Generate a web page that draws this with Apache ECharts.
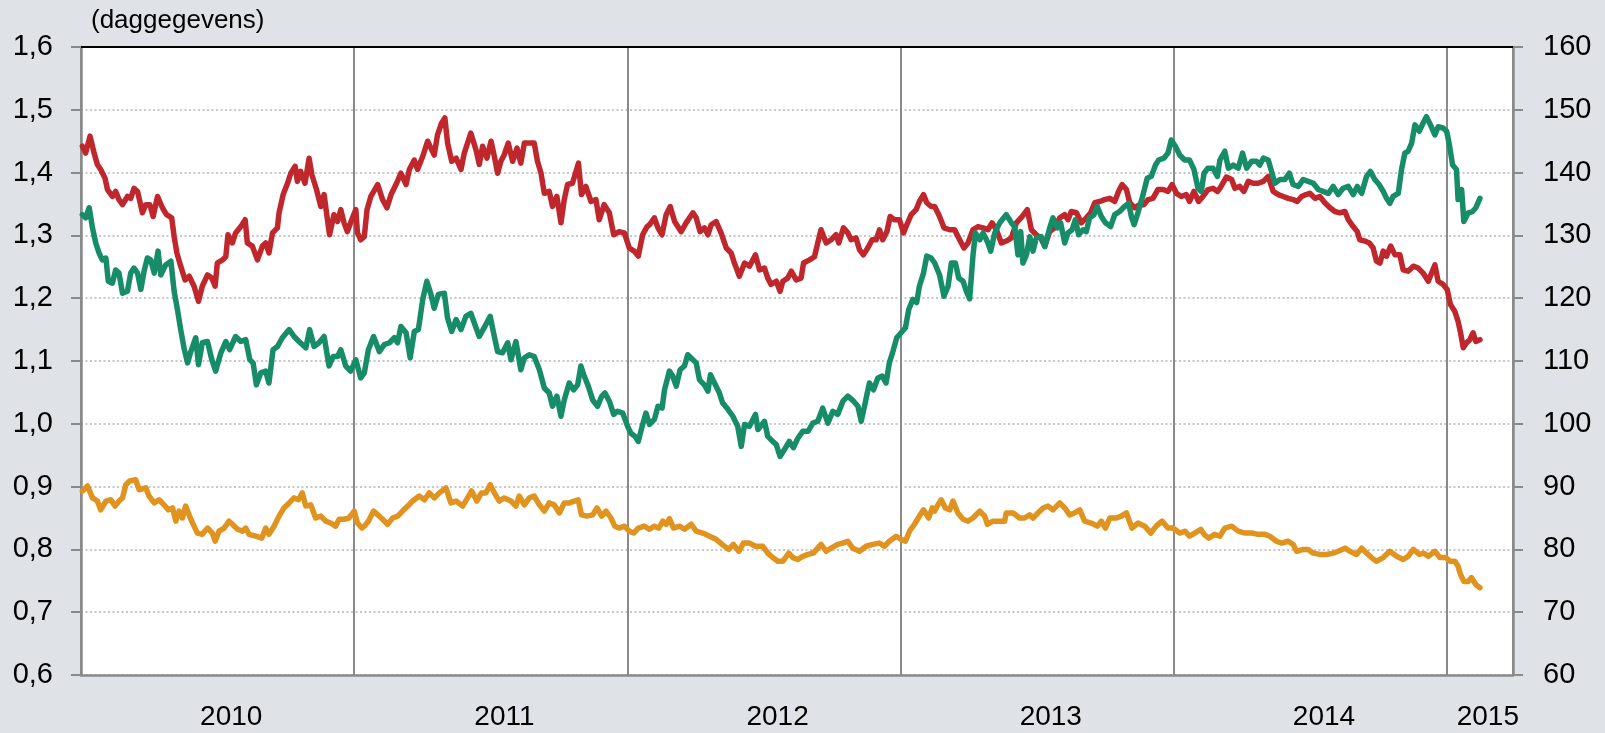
<!DOCTYPE html>
<html>
<head>
<meta charset="utf-8">
<script src="https://cdn.jsdelivr.net/npm/echarts@6/dist/echarts.min.js"></script>
<style>
  html, body { margin: 0; padding: 0; background: #dfe2e7; }
  #main { width: 1605px; height: 733px; }
</style>
</head>
<body>
<div id="main"></div>
<script>
// x = decimal year
var eurUsd = [
  [2010.005,1.442],[2010.017,1.431],[2010.033,1.458],[2010.048,1.431],[2010.060,1.413],[2010.072,1.405],
  [2010.088,1.391],[2010.097,1.373],[2010.115,1.362],[2010.127,1.370],[2010.139,1.357],[2010.152,1.349],
  [2010.170,1.362],[2010.182,1.359],[2010.194,1.375],[2010.207,1.370],[2010.225,1.336],[2010.237,1.349],
  [2010.252,1.349],[2010.264,1.330],[2010.280,1.362],[2010.298,1.344],[2010.313,1.333],[2010.332,1.328],
  [2010.341,1.298],[2010.351,1.272],[2010.365,1.251],[2010.381,1.229],[2010.396,1.235],[2010.414,1.219],
  [2010.430,1.195],[2010.444,1.219],[2010.463,1.237],[2010.479,1.232],[2010.491,1.219],[2010.499,1.256],
  [2010.518,1.261],[2010.530,1.266],[2010.538,1.301],[2010.554,1.288],[2010.566,1.304],[2010.585,1.314],
  [2010.601,1.325],[2010.609,1.288],[2010.627,1.283],[2010.646,1.261],[2010.664,1.283],[2010.676,1.288],
  [2010.688,1.272],[2010.701,1.304],[2010.719,1.312],[2010.725,1.336],[2010.740,1.365],[2010.756,1.383],
  [2010.768,1.399],[2010.784,1.410],[2010.792,1.386],[2010.804,1.402],[2010.820,1.383],[2010.835,1.423],
  [2010.845,1.397],[2010.862,1.373],[2010.878,1.346],[2010.890,1.365],[2010.902,1.325],[2010.910,1.301],
  [2010.926,1.333],[2010.939,1.322],[2010.951,1.341],[2010.963,1.320],[2010.975,1.306],[2010.991,1.325],
  [2011.006,1.341],[2011.012,1.304],[2011.024,1.293],[2011.037,1.298],[2011.047,1.341],[2011.061,1.362],
  [2011.086,1.381],[2011.104,1.357],[2011.120,1.344],[2011.135,1.365],[2011.153,1.381],[2011.171,1.399],
  [2011.190,1.381],[2011.202,1.405],[2011.220,1.420],[2011.232,1.405],[2011.251,1.426],[2011.269,1.450],
  [2011.281,1.439],[2011.293,1.428],[2011.305,1.460],[2011.320,1.479],[2011.332,1.487],[2011.342,1.447],
  [2011.357,1.418],[2011.373,1.423],[2011.391,1.405],[2011.403,1.431],[2011.427,1.463],[2011.446,1.436],
  [2011.458,1.413],[2011.470,1.442],[2011.486,1.423],[2011.501,1.450],[2011.513,1.426],[2011.525,1.399],
  [2011.537,1.418],[2011.549,1.428],[2011.564,1.447],[2011.580,1.418],[2011.596,1.439],[2011.610,1.415],
  [2011.623,1.447],[2011.641,1.447],[2011.659,1.447],[2011.671,1.418],[2011.684,1.399],[2011.696,1.367],
  [2011.714,1.370],[2011.726,1.346],[2011.742,1.362],[2011.757,1.320],[2011.769,1.357],[2011.781,1.381],
  [2011.799,1.383],[2011.821,1.415],[2011.832,1.365],[2011.848,1.378],[2011.867,1.354],[2011.885,1.357],
  [2011.897,1.325],[2011.915,1.349],[2011.934,1.336],[2011.950,1.301],[2011.970,1.306],[2011.989,1.304],
  [2012.007,1.280],[2012.025,1.275],[2012.040,1.267],[2012.056,1.301],[2012.072,1.314],[2012.081,1.317],
  [2012.099,1.328],[2012.112,1.312],[2012.127,1.301],[2012.142,1.333],[2012.157,1.346],[2012.173,1.322],
  [2012.197,1.306],[2012.215,1.320],[2012.240,1.336],[2012.252,1.328],[2012.266,1.306],[2012.282,1.312],
  [2012.295,1.301],[2012.307,1.317],[2012.325,1.322],[2012.343,1.304],[2012.362,1.280],[2012.380,1.272],
  [2012.392,1.256],[2012.410,1.235],[2012.429,1.256],[2012.447,1.251],[2012.469,1.269],[2012.484,1.245],
  [2012.502,1.248],[2012.514,1.232],[2012.526,1.222],[2012.545,1.227],[2012.559,1.211],[2012.569,1.227],
  [2012.587,1.232],[2012.600,1.243],[2012.618,1.229],[2012.636,1.232],[2012.645,1.256],[2012.667,1.261],
  [2012.685,1.266],[2012.697,1.288],[2012.709,1.309],[2012.728,1.288],[2012.746,1.293],[2012.764,1.301],
  [2012.774,1.288],[2012.791,1.312],[2012.807,1.304],[2012.819,1.293],[2012.837,1.296],[2012.850,1.277],
  [2012.864,1.269],[2012.880,1.280],[2012.896,1.293],[2012.911,1.293],[2012.923,1.309],[2012.935,1.293],
  [2012.950,1.306],[2012.962,1.330],[2012.978,1.325],[2012.996,1.325],[2013.011,1.304],[2013.023,1.317],
  [2013.039,1.333],[2013.057,1.341],[2013.069,1.354],[2013.084,1.365],[2013.096,1.352],[2013.112,1.346],
  [2013.125,1.346],[2013.143,1.330],[2013.159,1.312],[2013.180,1.309],[2013.198,1.309],[2013.213,1.296],
  [2013.232,1.280],[2013.247,1.288],[2013.265,1.309],[2013.284,1.314],[2013.302,1.312],[2013.320,1.309],
  [2013.335,1.320],[2013.351,1.309],[2013.369,1.288],[2013.387,1.291],[2013.406,1.296],[2013.424,1.320],
  [2013.445,1.330],[2013.464,1.341],[2013.479,1.309],[2013.497,1.301],[2013.513,1.296],[2013.528,1.283],
  [2013.546,1.306],[2013.564,1.312],[2013.583,1.328],[2013.601,1.333],[2013.613,1.325],[2013.625,1.338],
  [2013.644,1.336],[2013.662,1.320],[2013.680,1.328],[2013.696,1.336],[2013.711,1.352],[2013.729,1.354],
  [2013.747,1.357],[2013.766,1.359],[2013.784,1.354],[2013.798,1.370],[2013.811,1.381],[2013.827,1.373],
  [2013.839,1.352],[2013.857,1.344],[2013.875,1.349],[2013.891,1.349],[2013.906,1.357],[2013.924,1.359],
  [2013.942,1.373],[2013.961,1.373],[2013.979,1.370],[2013.994,1.381],[2014.010,1.367],[2014.028,1.362],
  [2014.046,1.365],[2014.058,1.354],[2014.074,1.370],[2014.091,1.354],[2014.107,1.362],[2014.125,1.373],
  [2014.144,1.375],[2014.160,1.370],[2014.169,1.375],[2014.193,1.393],[2014.212,1.389],[2014.224,1.375],
  [2014.242,1.378],[2014.257,1.370],[2014.273,1.386],[2014.291,1.383],[2014.309,1.383],[2014.328,1.386],
  [2014.346,1.394],[2014.364,1.370],[2014.383,1.365],[2014.401,1.362],[2014.419,1.359],[2014.437,1.357],
  [2014.452,1.354],[2014.468,1.362],[2014.484,1.365],[2014.498,1.367],[2014.517,1.359],[2014.535,1.362],
  [2014.553,1.352],[2014.572,1.344],[2014.590,1.338],[2014.608,1.336],[2014.627,1.338],[2014.639,1.325],
  [2014.657,1.314],[2014.672,1.306],[2014.681,1.293],[2014.700,1.291],[2014.716,1.288],[2014.730,1.280],
  [2014.742,1.259],[2014.755,1.256],[2014.767,1.275],[2014.779,1.267],[2014.794,1.283],[2014.810,1.269],
  [2014.828,1.269],[2014.840,1.245],[2014.858,1.243],[2014.877,1.251],[2014.895,1.248],[2014.913,1.240],
  [2014.932,1.227],[2014.944,1.240],[2014.956,1.253],[2014.968,1.227],[2014.986,1.222],[2015.001,1.214],
  [2015.013,1.190],[2015.029,1.179],[2015.041,1.163],[2015.050,1.145],[2015.060,1.121],[2015.072,1.129],
  [2015.084,1.134],[2015.096,1.145],[2015.106,1.131],[2015.121,1.134]
];

var eurJpy = [
  [2010.005,133.3],[2010.017,132.8],[2010.030,134.4],[2010.042,131.2],[2010.054,128.8],[2010.066,127.2],
  [2010.078,126.1],[2010.091,126.4],[2010.100,122.7],[2010.115,122.4],[2010.127,124.5],[2010.139,124.0],
  [2010.152,120.8],[2010.170,121.1],[2010.182,124.0],[2010.194,124.8],[2010.207,124.0],[2010.219,121.4],
  [2010.231,124.3],[2010.243,126.4],[2010.255,126.1],[2010.268,124.0],[2010.282,127.5],[2010.292,123.7],
  [2010.310,125.3],[2010.329,125.9],[2010.341,121.1],[2010.353,118.2],[2010.365,115.0],[2010.377,112.1],
  [2010.390,109.7],[2010.402,111.5],[2010.420,113.7],[2010.430,109.4],[2010.444,112.9],[2010.463,113.1],
  [2010.479,110.2],[2010.493,108.4],[2010.512,111.3],[2010.530,113.1],[2010.544,111.8],[2010.566,113.9],
  [2010.585,113.1],[2010.603,113.4],[2010.618,110.2],[2010.630,109.7],[2010.642,106.2],[2010.658,108.1],
  [2010.676,108.4],[2010.688,106.5],[2010.703,111.8],[2010.719,112.3],[2010.737,113.7],[2010.762,115.0],
  [2010.780,113.9],[2010.798,113.1],[2010.823,112.1],[2010.837,115.0],[2010.853,112.3],[2010.871,112.9],
  [2010.890,113.9],[2010.908,109.2],[2010.923,110.7],[2010.939,110.7],[2010.951,111.8],[2010.969,109.2],
  [2010.987,108.4],[2011.006,110.2],[2011.024,107.3],[2011.037,108.1],[2011.052,111.8],[2011.071,113.9],
  [2011.092,111.5],[2011.110,112.6],[2011.129,112.9],[2011.147,113.7],[2011.159,112.9],[2011.171,115.5],
  [2011.190,114.5],[2011.205,110.5],[2011.220,114.7],[2011.235,115.0],[2011.251,119.8],[2011.266,122.7],
  [2011.281,120.6],[2011.293,118.4],[2011.308,120.6],[2011.330,120.8],[2011.342,116.8],[2011.357,114.7],
  [2011.373,116.6],[2011.391,115.0],[2011.409,117.1],[2011.427,117.6],[2011.446,115.3],[2011.458,113.9],
  [2011.476,115.3],[2011.498,117.1],[2011.513,113.9],[2011.525,111.5],[2011.543,111.3],[2011.562,112.9],
  [2011.574,110.2],[2011.592,113.1],[2011.610,108.6],[2011.623,110.5],[2011.641,111.0],[2011.659,110.7],
  [2011.678,108.6],[2011.696,105.7],[2011.714,104.9],[2011.726,102.8],[2011.742,104.4],[2011.757,101.2],
  [2011.769,103.8],[2011.787,106.5],[2011.803,105.4],[2011.818,106.2],[2011.830,109.2],[2011.842,107.6],
  [2011.857,106.0],[2011.873,103.8],[2011.891,102.8],[2011.906,104.4],[2011.918,104.9],[2011.934,103.6],
  [2011.950,101.5],[2011.964,102.0],[2011.983,101.7],[2012.001,99.6],[2012.013,98.5],[2012.028,98.0],
  [2012.040,97.2],[2012.056,99.9],[2012.068,101.7],[2012.081,99.9],[2012.099,100.7],[2012.112,102.8],
  [2012.127,102.5],[2012.136,105.4],[2012.154,108.4],[2012.166,107.6],[2012.179,106.0],[2012.193,108.6],
  [2012.209,109.2],[2012.221,111.0],[2012.240,110.2],[2012.252,109.7],[2012.264,107.0],[2012.282,106.2],
  [2012.295,105.2],[2012.304,107.8],[2012.319,106.5],[2012.337,104.9],[2012.349,103.3],[2012.368,102.3],
  [2012.386,101.2],[2012.404,99.6],[2012.417,96.4],[2012.429,99.9],[2012.447,99.6],[2012.469,101.5],
  [2012.478,99.1],[2012.502,100.4],[2012.514,98.0],[2012.532,97.2],[2012.545,96.7],[2012.559,94.8],
  [2012.575,95.9],[2012.593,97.2],[2012.608,96.2],[2012.624,97.7],[2012.642,98.8],[2012.661,98.8],
  [2012.679,100.1],[2012.697,100.4],[2012.715,102.5],[2012.734,100.1],[2012.752,102.0],[2012.770,101.5],
  [2012.789,103.6],[2012.807,104.4],[2012.828,103.6],[2012.844,102.8],[2012.856,100.4],[2012.872,103.6],
  [2012.886,106.5],[2012.901,105.4],[2012.917,107.3],[2012.933,107.6],[2012.947,106.5],[2012.959,109.7],
  [2012.972,111.5],[2012.986,113.7],[2013.002,114.5],[2013.018,115.3],[2013.030,118.2],[2013.045,119.8],
  [2013.059,119.3],[2013.069,121.9],[2013.084,124.0],[2013.096,126.7],[2013.112,126.4],[2013.125,125.6],
  [2013.143,123.7],[2013.159,120.3],[2013.174,121.9],[2013.186,125.6],[2013.201,125.6],[2013.213,123.2],
  [2013.229,122.7],[2013.241,121.1],[2013.253,119.9],[2013.265,126.7],[2013.274,130.4],[2013.290,129.3],
  [2013.302,130.4],[2013.318,129.0],[2013.330,127.5],[2013.345,130.4],[2013.363,132.0],[2013.387,133.3],
  [2013.406,132.0],[2013.418,131.4],[2013.430,126.9],[2013.440,130.6],[2013.448,125.6],[2013.461,126.9],
  [2013.473,129.8],[2013.485,127.5],[2013.497,129.6],[2013.515,129.8],[2013.528,128.2],[2013.546,131.2],
  [2013.558,132.8],[2013.574,131.2],[2013.586,132.0],[2013.601,128.8],[2013.613,130.4],[2013.628,130.9],
  [2013.640,132.5],[2013.652,130.1],[2013.668,130.9],[2013.680,130.6],[2013.692,132.8],[2013.708,133.3],
  [2013.720,134.6],[2013.735,133.0],[2013.750,132.0],[2013.769,131.4],[2013.784,133.3],[2013.802,133.8],
  [2013.820,134.6],[2013.835,135.1],[2013.845,133.0],[2013.855,131.7],[2013.869,133.6],[2013.888,136.5],
  [2013.903,139.1],[2013.918,139.4],[2013.933,141.2],[2013.945,142.0],[2013.964,142.3],[2013.979,143.1],
  [2013.991,145.2],[2014.006,144.2],[2014.022,142.8],[2014.040,142.0],[2014.058,142.0],[2014.074,140.5],
  [2014.089,137.5],[2014.101,137.0],[2014.111,139.9],[2014.125,140.7],[2014.144,140.7],[2014.160,139.4],
  [2014.169,142.0],[2014.187,143.4],[2014.200,140.7],[2014.218,141.2],[2014.236,140.7],[2014.252,143.1],
  [2014.267,140.7],[2014.285,141.8],[2014.303,141.8],[2014.315,141.2],[2014.328,142.3],[2014.346,142.0],
  [2014.358,140.2],[2014.370,138.3],[2014.389,138.9],[2014.407,138.9],[2014.423,139.9],[2014.437,138.1],
  [2014.456,137.8],[2014.474,138.9],[2014.492,138.6],[2014.511,138.3],[2014.529,137.3],[2014.547,137.0],
  [2014.566,136.7],[2014.584,137.8],[2014.602,136.5],[2014.620,137.5],[2014.639,137.8],[2014.657,136.5],
  [2014.672,137.8],[2014.688,136.7],[2014.706,139.4],[2014.720,140.2],[2014.736,138.9],[2014.752,138.1],
  [2014.767,137.0],[2014.779,135.9],[2014.791,135.1],[2014.803,136.2],[2014.822,136.7],[2014.834,140.5],
  [2014.846,143.1],[2014.858,143.4],[2014.871,144.7],[2014.883,147.6],[2014.899,146.6],[2014.913,147.9],
  [2014.925,148.9],[2014.940,147.6],[2014.956,146.0],[2014.968,147.3],[2014.986,147.1],[2014.999,146.6],
  [2015.008,144.7],[2015.021,141.2],[2015.035,140.5],[2015.041,135.7],[2015.054,137.3],[2015.062,132.2],
  [2015.078,133.6],[2015.094,133.8],[2015.106,134.4],[2015.121,135.9]
];

var eurGbp = [
  [2010.005,0.893],[2010.024,0.901],[2010.042,0.882],[2010.060,0.877],[2010.072,0.863],[2010.091,0.877],
  [2010.109,0.879],[2010.125,0.869],[2010.139,0.877],[2010.152,0.882],[2010.164,0.903],[2010.178,0.909],
  [2010.200,0.911],[2010.213,0.895],[2010.237,0.898],[2010.249,0.885],[2010.268,0.874],[2010.286,0.879],
  [2010.304,0.871],[2010.320,0.863],[2010.335,0.866],[2010.347,0.845],[2010.359,0.861],[2010.371,0.850],
  [2010.383,0.869],[2010.402,0.848],[2010.414,0.837],[2010.426,0.826],[2010.444,0.824],[2010.463,0.834],
  [2010.481,0.826],[2010.491,0.813],[2010.505,0.829],[2010.524,0.834],[2010.542,0.845],[2010.554,0.840],
  [2010.573,0.832],[2010.591,0.829],[2010.603,0.834],[2010.615,0.824],[2010.640,0.821],[2010.662,0.818],
  [2010.676,0.834],[2010.688,0.824],[2010.707,0.837],[2010.725,0.853],[2010.743,0.866],[2010.762,0.874],
  [2010.780,0.882],[2010.796,0.879],[2010.810,0.890],[2010.823,0.869],[2010.841,0.871],[2010.859,0.850],
  [2010.878,0.853],[2010.896,0.845],[2010.914,0.842],[2010.932,0.837],[2010.945,0.848],[2010.963,0.848],
  [2010.981,0.850],[2011.000,0.861],[2011.012,0.842],[2011.028,0.834],[2011.037,0.837],[2011.052,0.845],
  [2011.071,0.861],[2011.092,0.853],[2011.104,0.848],[2011.122,0.840],[2011.141,0.850],[2011.159,0.853],
  [2011.177,0.861],[2011.196,0.869],[2011.214,0.877],[2011.238,0.885],[2011.257,0.879],[2011.275,0.890],
  [2011.293,0.882],[2011.312,0.890],[2011.336,0.898],[2011.354,0.874],[2011.373,0.877],[2011.397,0.869],
  [2011.415,0.882],[2011.430,0.893],[2011.449,0.877],[2011.466,0.890],[2011.482,0.890],[2011.498,0.903],
  [2011.513,0.890],[2011.531,0.877],[2011.549,0.882],[2011.574,0.877],[2011.592,0.869],[2011.604,0.885],
  [2011.623,0.871],[2011.641,0.882],[2011.659,0.885],[2011.678,0.871],[2011.696,0.861],[2011.714,0.874],
  [2011.732,0.871],[2011.751,0.858],[2011.769,0.874],[2011.787,0.874],[2011.806,0.877],[2011.820,0.879],
  [2011.832,0.855],[2011.852,0.853],[2011.873,0.855],[2011.889,0.866],[2011.906,0.853],[2011.922,0.861],
  [2011.940,0.850],[2011.954,0.837],[2011.970,0.834],[2011.989,0.837],[2012.007,0.829],[2012.023,0.826],
  [2012.040,0.834],[2012.062,0.837],[2012.081,0.832],[2012.099,0.837],[2012.115,0.834],[2012.130,0.845],
  [2012.142,0.840],[2012.154,0.849],[2012.169,0.834],[2012.191,0.837],[2012.209,0.832],[2012.234,0.840],
  [2012.252,0.829],[2012.276,0.826],[2012.301,0.821],[2012.325,0.816],[2012.347,0.808],[2012.371,0.800],
  [2012.388,0.808],[2012.408,0.797],[2012.425,0.810],[2012.447,0.810],[2012.469,0.805],[2012.496,0.805],
  [2012.514,0.794],[2012.532,0.787],[2012.551,0.781],[2012.569,0.781],[2012.591,0.794],[2012.606,0.787],
  [2012.624,0.784],[2012.642,0.789],[2012.661,0.792],[2012.681,0.794],[2012.709,0.808],[2012.728,0.797],
  [2012.746,0.802],[2012.770,0.808],[2012.789,0.810],[2012.807,0.813],[2012.825,0.802],[2012.850,0.797],
  [2012.874,0.805],[2012.898,0.808],[2012.923,0.810],[2012.941,0.805],[2012.959,0.813],[2012.984,0.821],
  [2013.002,0.816],[2013.018,0.813],[2013.033,0.829],[2013.051,0.840],[2013.069,0.853],[2013.084,0.863],
  [2013.103,0.850],[2013.116,0.866],[2013.125,0.861],[2013.137,0.871],[2013.149,0.879],[2013.164,0.866],
  [2013.180,0.863],[2013.192,0.877],[2013.210,0.858],[2013.229,0.848],[2013.247,0.845],[2013.265,0.850],
  [2013.290,0.861],[2013.308,0.853],[2013.318,0.840],[2013.339,0.845],[2013.363,0.845],[2013.381,0.845],
  [2013.387,0.858],[2013.412,0.858],[2013.436,0.850],[2013.454,0.850],[2013.473,0.855],[2013.485,0.850],
  [2013.503,0.858],[2013.522,0.866],[2013.540,0.869],[2013.558,0.863],[2013.583,0.874],[2013.601,0.866],
  [2013.619,0.855],[2013.637,0.858],[2013.656,0.863],[2013.674,0.845],[2013.698,0.842],[2013.720,0.837],
  [2013.735,0.845],[2013.750,0.834],[2013.766,0.850],[2013.790,0.850],[2013.808,0.853],[2013.827,0.858],
  [2013.847,0.834],[2013.869,0.842],[2013.894,0.837],[2013.916,0.826],[2013.936,0.837],[2013.957,0.845],
  [2013.979,0.834],[2013.997,0.834],[2014.022,0.826],[2014.042,0.829],[2014.058,0.821],[2014.077,0.826],
  [2014.099,0.832],[2014.111,0.824],[2014.128,0.818],[2014.150,0.824],[2014.169,0.821],[2014.187,0.834],
  [2014.212,0.837],[2014.236,0.829],[2014.261,0.826],[2014.285,0.826],[2014.309,0.824],[2014.334,0.824],
  [2014.352,0.821],[2014.376,0.813],[2014.395,0.810],[2014.419,0.813],[2014.437,0.808],[2014.450,0.797],
  [2014.474,0.800],[2014.492,0.800],[2014.511,0.794],[2014.535,0.792],[2014.559,0.792],[2014.584,0.794],
  [2014.602,0.797],[2014.627,0.802],[2014.645,0.797],[2014.669,0.792],[2014.688,0.802],[2014.706,0.794],
  [2014.724,0.787],[2014.742,0.781],[2014.767,0.787],[2014.791,0.797],[2014.816,0.789],[2014.840,0.784],
  [2014.858,0.789],[2014.877,0.800],[2014.899,0.792],[2014.916,0.794],[2014.932,0.789],[2014.956,0.797],
  [2014.974,0.787],[2014.996,0.787],[2015.011,0.781],[2015.029,0.781],[2015.041,0.773],[2015.050,0.760],
  [2015.062,0.749],[2015.078,0.749],[2015.090,0.755],[2015.106,0.744],[2015.121,0.739]
];

// where the year labels sit along the axis
var yearLabelPos = [2010.55, 2011.55, 2012.55, 2013.55, 2014.55, 2015.15];

var xMin = 2010, xMax = 2015.242;
var font = 'Liberation Sans, Arial, sans-serif';

var chart = echarts.init(document.getElementById('main'));

var option = {
  animation: false,
  backgroundColor: '#dfe2e7',
  title: {
    text: '(daggegevens)',
    left: 86, top: 3,
    textStyle: { fontFamily: font, fontSize: 26, fontWeight: 'normal', color: '#000' }
  },
  grid: { left: 81, right: 92, top: 47, bottom: 58, show: true, backgroundColor: '#fff', borderWidth: 0 },
  xAxis: [
    {
      type: 'value', min: xMin, max: xMax, interval: 1,
      axisLine: { lineStyle: { color: '#8a8a8a', width: 2.5 } },
      axisTick: { show: false },
      axisLabel: { show: false },
      splitLine: { show: true, lineStyle: { color: '#8a8a8a', width: 2 } }
    },
    {
      type: 'value', min: xMin, max: xMax, position: 'bottom',
      axisLine: { show: false },
      axisTick: { show: false },
      splitLine: { show: false },
      axisLabel: {
        customValues: yearLabelPos,
        margin: 28,
        fontFamily: font, fontSize: 28, color: '#000',
        formatter: function (v) { return String(Math.floor(v + 1e-6)); }
      }
    },
    {
      type: 'value', min: xMin, max: xMax, position: 'top',
      axisLine: { lineStyle: { color: '#000', width: 2 } },
      axisTick: { show: false },
      axisLabel: { show: false },
      splitLine: { show: false }
    }
  ],
  yAxis: [
    {
      type: 'value', min: 0.6, max: 1.6, interval: 0.1, position: 'left',
      axisLine: { show: true, lineStyle: { color: '#8a8a8a', width: 2.5 } },
      axisTick: { show: true, length: 10, lineStyle: { color: '#8a8a8a', width: 2 } },
      axisLabel: {
        margin: 28, fontFamily: font, fontSize: 29, color: '#000',
        formatter: function (v) { return v.toFixed(1).replace('.', ','); }
      },
      splitLine: { show: true, lineStyle: { color: '#b5b5b5', width: 1.5, type: [2, 2.5] } }
    },
    {
      type: 'value', min: 60, max: 160, interval: 10, position: 'right',
      axisLine: { show: true, lineStyle: { color: '#8a8a8a', width: 2.5 } },
      axisTick: { show: true, length: 10, lineStyle: { color: '#8a8a8a', width: 2 } },
      axisLabel: { margin: 30, fontFamily: font, fontSize: 29, color: '#000' },
      splitLine: { show: false }
    }
  ],
  series: [
    {
      name: 'EUR/USD', type: 'line', xAxisIndex: 0, yAxisIndex: 0,
      data: eurUsd, showSymbol: false, symbol: 'none',
      lineStyle: { color: '#c0272d', width: 5.5, join: 'round', cap: 'round' }
    },
    {
      name: 'EUR/GBP', type: 'line', xAxisIndex: 0, yAxisIndex: 0,
      data: eurGbp, showSymbol: false, symbol: 'none',
      lineStyle: { color: '#e0931e', width: 5.5, join: 'round', cap: 'round' }
    },
    {
      name: 'EUR/JPY', type: 'line', xAxisIndex: 0, yAxisIndex: 1,
      data: eurJpy, showSymbol: false, symbol: 'none',
      lineStyle: { color: '#178c68', width: 5.5, join: 'round', cap: 'round' }
    }
  ]
};

chart.setOption(option);
</script>
</body>
</html>
